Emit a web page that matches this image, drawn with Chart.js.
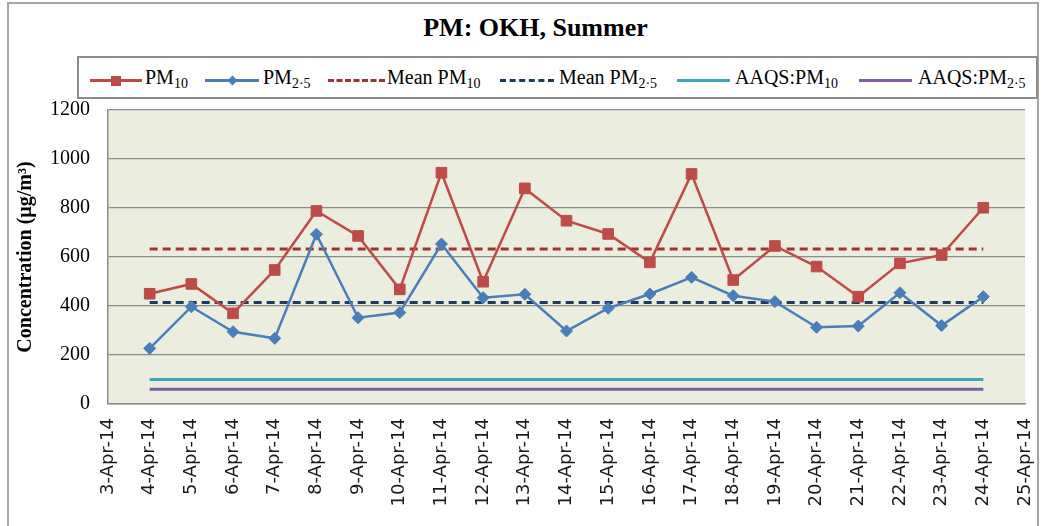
<!DOCTYPE html>
<html>
<head>
<meta charset="utf-8">
<script src="https://cdn.jsdelivr.net/npm/chart.js@4"></script>
<style>
    html, body { margin: 0; padding: 0; background: #fff; }
    #wrap { position: relative; width: 1046px; height: 526px; overflow: hidden; }
    #frame { position: absolute; left: 7px; top: 2px; width: 1032px; height: 600px; border: 2px solid #a6a6a6; box-sizing: border-box; }
    #title { position: absolute; left: 0; width: 1071px; top: 13px; text-align: center;
        font: bold 26px "Liberation Serif", "Times New Roman", serif; color: #000; }
    #legend { position: absolute; left: 77px; top: 56px; width: 961px; height: 43px;
        border: 2px solid #8c8c8c; box-sizing: border-box; }
    .swatch { position: absolute; top: 21px; height: 0; }
    .mark { position: absolute; }
    .label { position: absolute; top: 8px; font: 20px "Liberation Serif", "Times New Roman", serif; color: #000; white-space: nowrap; }
    .label sub { font-size: 14px; vertical-align: -4px; line-height: 0; }
    canvas { position: absolute; left: 0; top: 0; }
</style>
</head>
<body>
<div id="wrap">
    <div id="frame"></div>
    <div id="title">PM: OKH, Summer</div>
    <div id="legend"></div>
    <canvas id="pmChart" width="1046" height="526"></canvas>
</div>
<script>
const dates = ['3-Apr-14', '4-Apr-14', '5-Apr-14', '6-Apr-14', '7-Apr-14', '8-Apr-14', '9-Apr-14',
    '10-Apr-14', '11-Apr-14', '12-Apr-14', '13-Apr-14', '14-Apr-14', '15-Apr-14', '16-Apr-14',
    '17-Apr-14', '18-Apr-14', '19-Apr-14', '20-Apr-14', '21-Apr-14', '22-Apr-14', '23-Apr-14',
    '24-Apr-14', '25-Apr-14'];
const pm10 = [null, 450, 490, 370, 547, 788, 686, 468, 944, 499, 880, 748, 694, 578, 939, 506, 645, 561, 438, 574, 608, 801, null];
const pm25 = [null, 227, 397, 295, 268, 693, 352, 373, 653, 434, 448, 298, 391, 449, 517, 442, 418, 313, 318, 454, 320, 438, null];
const meanPM10 = 633;
const meanPM25 = 414;
const aaqsPM10 = 100;
const aaqsPM25 = 60;
const yTicks = [0, 200, 400, 600, 800, 1000, 1200];

const colors = {
    pm10: '#be4b48',
    pm25: '#4a7ebb',
    meanPM10: '#a0322f',
    meanPM25: '#1f3a60',
    aaqsPM10: '#3fa6ba',
    aaqsPM25: '#7d5f9f'
};

// constant line across the measured days (first and last date are empty)
function flatLine(value) {
    return dates.map((d, i) => (i === 0 || i === dates.length - 1) ? null : value);
}

document.addEventListener('DOMContentLoaded', function() {
    buildLegend();

    const plotBackground = {
        id: 'plotBackground',
        beforeDraw(chart) {
            const a = chart.chartArea;
            const ctx = chart.ctx;
            ctx.save();
            ctx.fillStyle = '#ebeedf';
            ctx.fillRect(a.left, a.top, a.right - a.left, a.bottom - a.top);
            ctx.restore();
        }
    };

    const ctx = document.getElementById('pmChart').getContext('2d');
    new Chart(ctx, {
        type: 'line',
        data: {
            labels: dates,
            datasets: [
                {
                    label: 'PM10',
                    data: pm10,
                    borderColor: colors.pm10,
                    backgroundColor: colors.pm10,
                    borderWidth: 2.5,
                    pointStyle: 'rect',
                    pointRadius: 7.5,
                    pointBorderWidth: 1,
                    tension: 0
                },
                {
                    label: 'PM2.5',
                    data: pm25,
                    borderColor: colors.pm25,
                    backgroundColor: colors.pm25,
                    borderWidth: 2.5,
                    pointStyle: 'rectRot',
                    pointRadius: 6,
                    pointBorderWidth: 1,
                    tension: 0
                },
                {
                    label: 'Mean PM10',
                    data: flatLine(meanPM10),
                    borderColor: colors.meanPM10,
                    borderWidth: 3,
                    borderDash: [8, 5],
                    pointRadius: 0
                },
                {
                    label: 'Mean PM2.5',
                    data: flatLine(meanPM25),
                    borderColor: colors.meanPM25,
                    borderWidth: 3,
                    borderDash: [8, 5],
                    pointRadius: 0
                },
                {
                    label: 'AAQS:PM10',
                    data: flatLine(aaqsPM10),
                    borderColor: colors.aaqsPM10,
                    borderWidth: 3,
                    pointRadius: 0
                },
                {
                    label: 'AAQS:PM2.5',
                    data: flatLine(aaqsPM25),
                    borderColor: colors.aaqsPM25,
                    borderWidth: 3,
                    pointRadius: 0
                }
            ]
        },
        options: {
            responsive: false,
            animation: false,
            layout: {
                padding: { left: 8, top: 110, right: 21, bottom: 0 }
            },
            plugins: {
                legend: { display: false },
                title: { display: false },
                tooltip: { enabled: false }
            },
            scales: {
                x: {
                    offset: false,
                    afterFit: function(scale) {
                        scale.height = 122;
                        scale.paddingLeft = 0;
                        scale.paddingRight = 0;
                    },
                    grid: { display: false, drawTicks: false },
                    border: { display: true, color: '#8c8c8c', width: 1.5 },
                    ticks: {
                        autoSkip: false,
                        minRotation: 90,
                        maxRotation: 90,
                        padding: 14,
                        color: '#1a1a1a',
                        font: { family: 'DejaVu Sans', size: 18 }
                    }
                },
                y: {
                    min: 0,
                    max: 1200,
                    afterFit: function(scale) { scale.width = 100; },
                    afterBuildTicks: function(scale) {
                        scale.ticks = yTicks.map(v => ({ value: v }));
                    },
                    grid: { color: '#8c8c8c', lineWidth: 1.2, drawTicks: false },
                    border: { display: true, color: '#8c8c8c', width: 1.5 },
                    ticks: {
                        padding: 18,
                        color: '#000',
                        font: { family: 'Liberation Serif', size: 20 },
                        callback: function(value) { return String(value); }
                    },
                    title: {
                        display: true,
                        text: 'Concentration (µg/m³)',
                        color: '#000',
                        padding: { top: 6, bottom: 0 },
                        font: { family: 'Liberation Serif', size: 20, weight: 'bold' }
                    }
                }
            }
        },
        plugins: [plotBackground]
    });

    function buildLegend() {
        const legend = document.getElementById('legend');
        // left positions are relative to the legend box
        const items = [
            { from: 11, to: 63, color: colors.pm10, marker: 'square', text: 'PM<sub>10</sub>', textX: 66 },
            { from: 126, to: 180, color: colors.pm25, marker: 'diamond', text: 'PM<sub>2·5</sub>', textX: 184 },
            { from: 249, to: 306, color: colors.meanPM10, dashed: true, text: 'Mean PM<sub>10</sub>', textX: 308 },
            { from: 421, to: 475, color: colors.meanPM25, dashed: true, text: 'Mean PM<sub>2·5</sub>', textX: 480 },
            { from: 598, to: 651, color: colors.aaqsPM10, text: 'AAQS:PM<sub>10</sub>', textX: 656 },
            { from: 780, to: 833, color: colors.aaqsPM25, text: 'AAQS:PM<sub>2·5</sub>', textX: 839 }
        ];
        items.forEach(item => {
            const line = document.createElement('div');
            line.className = 'swatch';
            line.style.left = item.from + 'px';
            line.style.width = (item.to - item.from) + 'px';
            line.style.borderTop = `3px ${item.dashed ? 'dashed' : 'solid'} ${item.color}`;
            legend.appendChild(line);

            if (item.marker) {
                const mark = document.createElement('div');
                mark.className = 'mark';
                const mid = (item.from + item.to) / 2;
                const size = item.marker === 'square' ? 10 : 7;
                mark.style.width = size + 'px';
                mark.style.height = size + 'px';
                mark.style.left = (mid - size / 2) + 'px';
                mark.style.top = (22.5 - size / 2) + 'px';
                mark.style.background = item.color;
                if (item.marker === 'diamond') mark.style.transform = 'rotate(45deg)';
                legend.appendChild(mark);
            }

            const label = document.createElement('div');
            label.className = 'label';
            label.style.left = item.textX + 'px';
            label.innerHTML = item.text;
            legend.appendChild(label);
        });
    }
});
</script>
</body>
</html>
